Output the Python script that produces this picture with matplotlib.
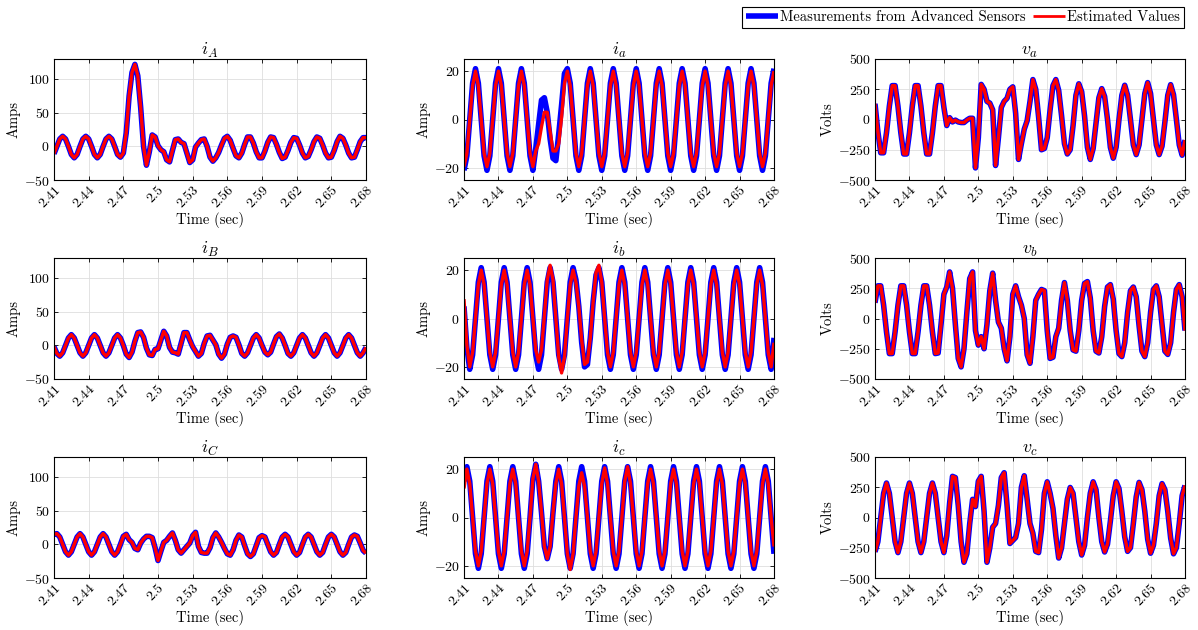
import numpy as np
import matplotlib
matplotlib.use("Agg")
import matplotlib.pyplot as plt

# LaTeX-like look (Computer Modern ships with matplotlib)
plt.rcParams['font.family'] = 'cmr10'
plt.rcParams['mathtext.fontset'] = 'cm'
plt.rcParams['axes.formatter.use_mathtext'] = True

# time window, samples every 2.5 ms
t_first = 2.41
t_last = 2.68
xtick_vals = [2.41, 2.44, 2.47, 2.50, 2.53, 2.56, 2.59, 2.62, 2.65, 2.68]
xtick_text = ['2.41', '2.44', '2.47', '2.5', '2.53', '2.56', '2.59', '2.62', '2.65', '2.68']

# ---- primary side currents (estimate overlaps the measurement) ----
iA_meas = [-11, 0, 11, 15, 11, 0, -12, -17, -12, 0,
           11, 15, 11, 0, -12, -17, -12, 0, 11, 15,
           11, 0, -12, -16, -10, 20, 75, 110, 122, 105,
           58, 0, -28, -8, 17, 14, 1, -5, -8, -20,
           -23, -6, 10, 11, 6, 4, -10, -24, -20, -1,
           5, 10, 11, 0, -16, -22, -17, -9, 2, 12,
           15, 9, -3, -14, -17, -10, 3, 14, 14, 5,
           -8, -17, -17, -7, 6, 14, 13, 3, -9, -18,
           -16, -6, 6, 13, 12, 2, -10, -17, -15, -5,
           7, 14, 12, 2, -10, -17, -16, -6, 7, 15,
           12, 2, -10, -17, -16, -5, 7, 13, 13]
iA_est = iA_meas

iB_meas = [-2, -12, -16, -11, 0, 11, 16, 11, 0, -11,
           -16, -11, 0, 11, 16, 11, 0, -11, -16, -11,
           0, 11, 16, 11, 0, -13, -18, -10, 6, 19,
           20, 12, -4, -14, -15, -6, -5, 8, 21, 14,
           -3, -10, -11, -13, 3, 19, 19, 8, -2, -9,
           -16, -12, 3, 14, 15, 8, 1, -13, -19, -13,
           2, 12, 14, 12, 1, -12, -16, -11, 0, 11,
           16, 11, 0, -10, -14, -10, 2, 13, 17, 11,
           0, -12, -16, -11, 0, 11, 16, 11, 0, -11,
           -16, -11, 0, 11, 16, 11, 0, -11, -16, -11,
           0, 11, 16, 11, 0, -11, -16, -11, -3]
iB_est = iB_meas

iC_meas = [15, 16, 11, 0, -11, -16, -11, 0, 11, 16,
           11, 0, -11, -16, -11, 0, 11, 16, 11, 0,
           -11, -16, -11, 0, 12, 15, 7, 3, -6, -8,
           2, 8, 12, 12, 10, -5, -24, -10, 3, 6,
           12, 17, 6, -8, -13, -8, -3, 2, 13, 18,
           -3, -12, -13, -13, -5, 10, 17, 11, 3, -6,
           -14, -16, -8, 6, 14, 11, -2, -14, -18, -14,
           -2, 10, 13, 11, 0, -11, -16, -12, 0, 11,
           15, 11, 0, -11, -16, -12, 0, 11, 15, 11,
           0, -11, -16, -12, 0, 11, 15, 11, 0, -11,
           -16, -12, 0, 11, 14, 12, 2, -9, -13]
iC_est = iC_meas

# ---- secondary side currents ----
ia_meas = [-21, -15, 0, 15, 21, 15, 0, -15, -21, -15,
           0, 15, 21, 15, 0, -15, -21, -15, 0, 15,
           21, 15, 0, -15, -21, -12, -2, 8, 9, 3,
           -8, -16, -17, -6, 6, 19, 21, 15, 0, -15,
           -21, -15, 0, 15, 21, 15, 0, -15, -21, -15,
           0, 15, 21, 15, 0, -15, -21, -15, 0, 15,
           21, 15, 0, -15, -21, -15, 0, 15, 21, 15,
           0, -15, -21, -15, 0, 15, 21, 15, 0, -15,
           -21, -15, 0, 15, 21, 15, 0, -15, -21, -15,
           0, 15, 21, 15, 0, -15, -21, -15, 0, 15,
           21, 15, 0, -15, -21, -15, 0, 15, 21]
ia_est = [-19.5, -14, 0, 14, 20, 14, 0, -14, -19.5, -14,
          0, 14, 20, 14, 0, -14, -19.5, -14, 0, 14,
          20, 14, 0, -14, -19.5, -13, -10, -3, 3, 3,
          -5, -13, -13, -10, 1, 15, 20, 14, 0, -14,
          -19.5, -14, 0, 14, 20, 14, 0, -14, -19.5, -14,
          0, 14, 20, 14, 0, -14, -19.5, -14, 0, 14,
          20, 14, 0, -14, -19.5, -14, 0, 14, 20, 14,
          0, -14, -19.5, -14, 0, 14, 20, 14, 0, -14,
          -19.5, -14, 0, 14, 20, 14, 0, -14, -19.5, -14,
          0, 14, 20, 14, 0, -14, -19.5, -14, 0, 14,
          20, 14, 0, -14, -19.5, -14, 0, 14, 20]

ib_meas = [5, -12, -21, -15, 0, 15, 21, 15, 0, -15,
           -21, -15, 0, 15, 21, 15, 0, -15, -21, -15,
           0, 15, 21, 15, 0, -15, -21, -15, 0, 15,
           21, 15, 0, -15, -21, -15, 0, 15, 21, 16,
           5, -10, -20, -19, -8, 7, 18, 21, 15, 0,
           -15, -21, -15, 0, 15, 21, 15, 0, -15, -21,
           -15, 0, 15, 21, 15, 0, -15, -21, -15, 0,
           15, 21, 15, 0, -15, -21, -15, 0, 15, 21,
           15, 0, -15, -21, -15, 0, 15, 21, 15, 0,
           -15, -21, -15, 0, 15, 21, 15, 0, -15, -21,
           -15, 0, 15, 21, 15, 0, -15, -21, -8]
ib_est = [8, -11, -20, -14, 0, 14, 20, 14, 0, -14,
          -20, -14, 0, 14, 20, 14, 0, -14, -20, -14,
          0, 14, 20, 14, 0, -13, -18, -13, 1, 16,
          22, 16, 0, -16, -22.5, -16, 0, 14, 20, 15,
          5, -9, -19, -18, -8, 7, 19, 22, 15, 0,
          -14, -20, -14, 0, 14, 20, 14, 0, -14, -20,
          -14, 0, 14, 20, 14, 0, -14, -20, -14, 0,
          14, 20, 14, 0, -14, -20, -14, 0, 14, 20,
          14, 0, -14, -20, -14, 0, 14, 20, 14, 0,
          -14, -20, -14, 0, 14, 20, 14, 0, -14, -20,
          -14, 0, 14, 20, 14, 0, -14, -20, -10]

ic_meas = [15, 21, 15, 0, -15, -21, -15, 0, 15, 21,
           15, 0, -15, -21, -15, 0, 15, 21, 15, 0,
           -15, -21, -15, 0, 16, 22, 15, 2, -12, -17,
           -12, 2, 15, 21, 15, 0, -15, -21, -15, 0,
           15, 21, 15, 0, -15, -21, -15, 0, 15, 21,
           15, 0, -15, -21, -15, 0, 15, 21, 15, 0,
           -15, -21, -15, 0, 15, 21, 15, 0, -15, -21,
           -15, 0, 15, 21, 15, 0, -15, -21, -15, 0,
           15, 21, 15, 0, -15, -21, -15, 0, 15, 21,
           15, 0, -15, -21, -15, 0, 15, 21, 15, 0,
           -15, -21, -15, 0, 15, 21, 15, 0, -15]
ic_est = [12, 20, 14, 0, -14, -20, -14, 0, 14, 20,
          14, 0, -14, -20, -14, 0, 14, 20, 14, 0,
          -14, -20, -14, 0, 16, 22, 15, 2, -12, -17,
          -12, 2, 14, 20, 14, 0, -15, -21.5, -15, 0,
          13, 18.5, 13, 0, -14, -20, -14, 0, 14, 20.5,
          14, 0, -14, -20, -14, 0, 15, 21, 14, 0,
          -14, -20, -14, 0, 14, 20, 14, 0, -14, -20,
          -14, 0, 14, 20, 14, 0, -14, -20, -14, 0,
          14, 20, 14, 0, -14, -20, -14, 0, 14, 20,
          14, 0, -14, -20, -14, 0, 14, 20, 14, 0,
          -14, -20, -14, 0, 14, 20, 14, 0, -12]

# ---- secondary side voltages (estimate overlaps the measurement) ----
va_meas = [130, -100, -275, -275, -110, 110, 280, 280, 110, -110,
           -285, -285, -110, 110, 280, 280, 110, -110, -285, -285,
           -110, 110, 280, 280, 100, -50, 15, -20, -5, -20,
           -25, -25, -5, 10, 10, -400, -150, 290, 250, 150,
           135, 80, -380, -150, 100, 150, 175, 250, 270, 50,
           -330, -200, -80, -10, 150, 330, 250, 20, -250, -240,
           -150, 80, 280, 330, 240, 30, -200, -285, -250, -50,
           200, 295, 230, 30, -230, -330, -240, -30, 180, 255,
           190, 0, -230, -320, -230, 0, 200, 283, 200, 0,
           -210, -290, -210, 0, 215, 305, 215, 0, -210, -290,
           -220, -20, 200, 288, 205, 0, -210, -295, -170]
va_est = va_meas

vb_meas = [130, 270, 270, 110, -110, -290, -290, -110, 110, 270,
           270, 110, -110, -290, -290, -110, 110, 270, 270, 110,
           -110, -290, -285, -50, 200, 260, 385, 250, -50, -330,
           -400, -250, 50, 330, 385, -100, -220, -150, -250, -50,
           230, 375, 150, -30, -80, -250, -350, -150, 200, 270,
           180, 110, 0, -300, -370, -150, 150, 200, 240, 230,
           -100, -330, -320, -150, -80, 150, 297, 150, -100, -260,
           -270, -100, 150, 290, 305, 170, -100, -270, -285, -150,
           100, 260, 280, 160, -100, -290, -315, -200, 50, 230,
           260, 180, -60, -270, -315, -200, 50, 240, 270, 180,
           -50, -270, -297, -200, 50, 240, 280, 180, -100]
vb_est = vb_meas

vc_meas = [-284, -200, 0, 200, 285, 200, 0, -200, -290, -200,
           0, 200, 285, 200, 0, -200, -290, -200, 0, 200,
           285, 200, 0, -200, -290, -150, 120, 340, 330, 100,
           -200, -370, -300, -50, 150, 90, 300, 340, 50, -370,
           -250, -80, -50, 100, 330, 370, 100, -215, -190, -165,
           -50, 250, 345, 150, -50, -130, -280, -290, -100, 200,
           295, 200, 75, -150, -335, -250, -50, 150, 248, 200,
           0, -200, -310, -230, 0, 200, 295, 230, 0, -200,
           -285, -220, -30, 180, 295, 240, 50, -160, -280, -250,
           -50, 170, 290, 230, 50, -180, -295, -230, -50, 180,
           280, 230, 50, -170, -300, -250, -50, 180, 265]
vc_est = vc_meas

amp_lim = (-50, 130)
amp_ticks = [-50, 0, 50, 100]
sec_lim = (-25, 25)
sec_ticks = [-20, 0, 20]
volt_lim = (-500, 500)
volt_ticks = [-500, -250, 0, 250, 500]

# title, y label, measured, estimated, limits, ticks (row-major order)
panels = [
    (r'$i_A$', 'Amps', iA_meas, iA_est, amp_lim, amp_ticks),
    (r'$i_a$', 'Amps', ia_meas, ia_est, sec_lim, sec_ticks),
    (r'$v_a$', 'Volts', va_meas, va_est, volt_lim, volt_ticks),
    (r'$i_B$', 'Amps', iB_meas, iB_est, amp_lim, amp_ticks),
    (r'$i_b$', 'Amps', ib_meas, ib_est, sec_lim, sec_ticks),
    (r'$v_b$', 'Volts', vb_meas, vb_est, volt_lim, volt_ticks),
    (r'$i_C$', 'Amps', iC_meas, iC_est, amp_lim, amp_ticks),
    (r'$i_c$', 'Amps', ic_meas, ic_est, sec_lim, sec_ticks),
    (r'$v_c$', 'Volts', vc_meas, vc_est, volt_lim, volt_ticks),
]


def time_for(values):
    return np.linspace(t_first, t_last, len(values))


W, H = 1198, 630
fig = plt.figure(figsize=(W / 100, H / 100), dpi=100)

# axes boxes in pixels: left edges, widths, top edges, height
col_left = [54, 464, 875]
col_width = [312, 310, 310]
row_top = [59, 258, 457]
row_height = 121

for i, (title, ylabel, meas, est, ylim, yticks) in enumerate(panels):
    r, c = divmod(i, 3)
    ax = fig.add_axes([col_left[c] / W, 1 - (row_top[r] + row_height) / H,
                       col_width[c] / W, row_height / H])
    l1, = ax.plot(time_for(meas), meas, color='#0000ff', lw=4.0,
                  solid_capstyle='butt', solid_joinstyle='round',
                  label='Measurements from Advanced Sensors')
    l2, = ax.plot(time_for(est), est, color='#ff0000', lw=2.4,
                  solid_capstyle='butt', solid_joinstyle='round',
                  label='Estimated Values')
    ax.set_xlim(t_first, t_last)
    ax.set_ylim(*ylim)
    ax.set_yticks(yticks)
    ax.set_xticks(xtick_vals)
    ax.set_xticklabels(xtick_text, rotation=45, ha='right', rotation_mode='anchor')
    ax.tick_params(direction='in', top=True, right=True, length=3, width=0.6,
                   labelsize=10, pad=3)
    ax.grid(True, color='#dedede', lw=0.6)
    ax.set_axisbelow(True)
    for s in ax.spines.values():
        s.set_linewidth(0.8)
    ax.set_title(title, fontsize=13, pad=3)
    ax.set_ylabel(ylabel, fontsize=10.5, labelpad=2)
    ax.set_xlabel('Time (sec)', fontsize=10.5, labelpad=1)
    if i == 0:
        handles = [l1, l2]

leg = fig.legend(handles, [h.get_label() for h in handles], loc='upper right',
                 bbox_to_anchor=(1184 / W, 1 - 7 / H), ncol=2, fancybox=False,
                 edgecolor='black', framealpha=1, fontsize=10.5, handlelength=2.2,
                 handletextpad=0.15, columnspacing=0.5, borderpad=0.25,
                 borderaxespad=0)
leg.get_frame().set_linewidth(0.8)
leg.legend_handles[0].set_linewidth(4)
leg.legend_handles[1].set_linewidth(2)

fig.savefig('out.png', dpi=100)
